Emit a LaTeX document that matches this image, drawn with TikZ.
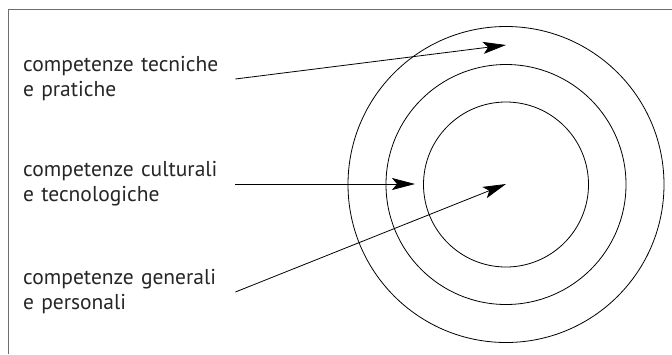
\documentclass[tikz,border=0pt]{standalone}
\usepackage{fontspec}
\setmainfont{PT Sans}
\usepackage{tikz}
\usetikzlibrary{arrows.meta,positioning}
\definecolor{framegray}{RGB}{110,110,110}

\begin{document}
\begin{tikzpicture}[x=1pt, y=-1pt,
  lbl/.style={anchor=west, align=left, text width=206pt, inner sep=6pt,
              text=black!85, font=\fontsize{21.5}{25}\selectfont},
  ring/.style={circle, draw, line width=0.8pt, inner sep=0pt},
  arr/.style={-{Stealth[length=23pt, width=12pt, inset=5pt]}, line width=0.8pt}
]
  \useasboundingbox (0,0) rectangle (672,354);
  \draw[framegray, line width=1pt] (8,354) -- (8,9) -- (672,9);

  % the three rings
  \node[ring, minimum size=316pt] (outer)  at (506,184.5) {};
  \node[ring, minimum size=240pt] (middle) at (506,184.5) {};
  \node[ring, minimum size=165pt] (inner)  at (506,184.5) {};

  \node[lbl] (tec) at (17,79)  {competenze tecniche\\e pratiche};
  \node[lbl] (cul) at (17,184) {competenze culturali\\e tecnologiche};
  \node[lbl] (gen) at (17,292) {competenze generali\\e personali};

  \coordinate (tipA) at (506,45);
  \coordinate (tipB) at (415,184);
  \coordinate (tipC) at (506,184);

  \draw[arr] (tec.east) -- (tipA);
  \draw[arr] (cul.east) -- (tipB);
  \draw[arr] (gen.east) -- (tipC);
\end{tikzpicture}
\end{document}
